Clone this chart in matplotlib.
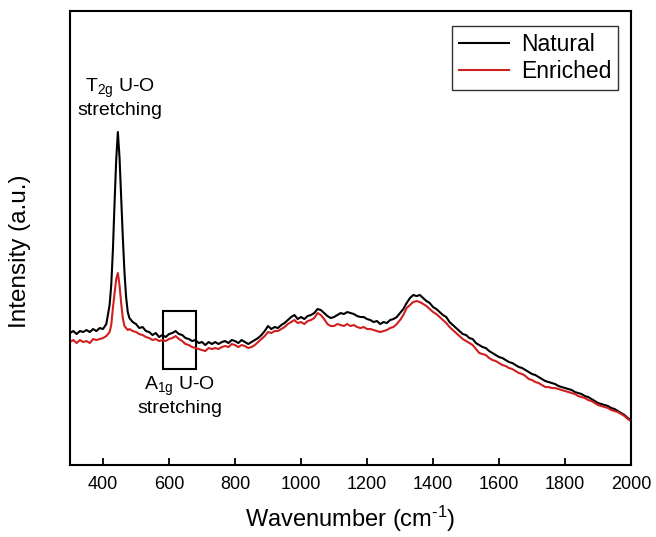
import matplotlib
matplotlib.use("Agg")
import matplotlib.pyplot as plt
from matplotlib.patches import Rectangle

plt.rcParams["font.family"] = ["Liberation Sans", "DejaVu Sans"]
plt.rcParams["mathtext.fontset"] = "custom"
plt.rcParams["mathtext.rm"] = "Liberation Sans"
plt.rcParams["mathtext.it"] = "Liberation Sans"

# Raman shift grid (cm-1): flat start, dense around the T2g peak, then 10 cm-1 steps
wn_low = [300, 310, 320, 330, 340, 350, 360, 370, 380, 390, 400]
wn_peak = [410, 420, 425, 430, 435, 440, 445, 450, 455, 460, 465, 470, 475, 480]
wn_high = list(range(490, 2001, 10))
wavenumber = wn_low + wn_peak + wn_high

# intensities (a.u.)
natural = [
    132, 134, 131, 134, 133, 135, 133, 136, 134, 137, 136,
    141, 160, 180, 215, 262, 305, 333, 308, 268, 228, 193, 168, 153, 147,
    143, 141, 137, 138, 134, 133, 130, 132, 128, 130,
    128, 131, 132, 134, 131, 130, 127, 126, 124, 125,
    122, 123, 120, 123, 121, 123, 121, 123, 124, 122,
    125, 124, 122, 125, 123, 121, 123, 125, 127, 130,
    134, 139, 136, 138, 137, 140, 142, 145, 148, 150,
    146, 148, 146, 149, 150, 152, 156, 155, 152, 149,
    147, 148, 150, 152, 151, 153, 152, 151, 149, 148,
    148, 146, 145, 143, 144, 141, 143, 142, 145, 146,
    148, 152, 156, 162, 167, 170, 169, 170, 167, 164,
    162, 158, 156, 153, 150, 148, 143, 140, 137, 134,
    131, 130, 127, 126, 122, 120, 118, 117, 114, 112,
    110, 108, 107, 105, 103, 102, 100, 98, 97, 95,
    93, 91, 90, 88, 86, 84, 83, 82, 81, 79,
    78, 77, 76, 75, 73, 72, 71, 69, 68, 66,
    64, 62, 61, 60, 59, 57, 56, 54, 52, 50,
    47, 45]

enriched = [
    123, 125, 122, 125, 123, 124, 122, 126, 125, 126, 127,
    129, 133, 140, 157, 172, 186, 192, 180, 162, 147, 139, 137, 135, 136,
    134, 133, 131, 130, 128, 127, 125, 126, 124, 125,
    124, 126, 127, 129, 126, 124, 121, 120, 118, 117,
    116, 115, 114, 117, 116, 117, 116, 118, 119, 118,
    121, 120, 118, 120, 119, 117, 118, 120, 123, 126,
    129, 133, 132, 134, 134, 136, 138, 141, 143, 145,
    142, 143, 141, 144, 145, 147, 152, 150, 146, 141,
    139, 139, 141, 140, 139, 141, 139, 140, 138, 137,
    138, 136, 136, 135, 134, 133, 134, 135, 137, 138,
    141, 145, 150, 157, 160, 163, 164, 163, 161, 159,
    156, 153, 151, 148, 145, 142, 138, 135, 132, 129,
    126, 124, 122, 120, 116, 112, 111, 110, 107, 105,
    104, 102, 100, 99, 97, 96, 94, 92, 91, 89,
    86, 85, 83, 82, 80, 78, 78, 77, 77, 76,
    75, 74, 73, 72, 71, 69, 68, 67, 65, 64,
    62, 60, 59, 58, 57, 55, 54, 53, 51, 49,
    46, 44]

x_ticks = [400, 600, 800, 1000, 1200, 1400, 1600, 1800, 2000]

fig = plt.figure(figsize=(6.56, 5.37), dpi=100)
ax = fig.add_axes([0.1067, 0.134, 0.8553, 0.8455])

ax.plot(wavenumber, natural, color="black", linewidth=1.5, label="Natural")
ax.plot(wavenumber, enriched, color="#d01f1f", linewidth=1.5, label="Enriched")

# box around the A1g region
ax.add_patch(Rectangle((582, 96), 100, 58, fill=False, edgecolor="black", linewidth=1.5))

ax.text(452, 367, "T$_{2g}$ U-O\nstretching", ha="center", va="center",
        fontsize=14, linespacing=1.1)
ax.text(633, 69, "A$_{1g}$ U-O\nstretching", ha="center", va="center",
        fontsize=14, linespacing=1.1)

ax.set_xlim(300, 2000)
ax.set_ylim(0, 454)
ax.set_xticks(x_ticks)
ax.set_yticks([])
ax.tick_params(axis="x", direction="in", length=5, width=1.3, labelsize=13, pad=8)
for sp in ax.spines.values():
    sp.set_linewidth(1.5)

ax.set_xlabel("Wavenumber (cm$^{\\text{-1}}$)", fontsize=17, labelpad=8)
ax.set_ylabel("Intensity (a.u.)", fontsize=17.5)
ax.yaxis.set_label_coords(-0.07, 0.47)

leg = ax.legend(loc="upper right", fontsize=16.5, frameon=True, fancybox=False,
                handlelength=2.2, borderpad=0.3, labelspacing=0.2,
                handletextpad=0.5, borderaxespad=0,
                bbox_to_anchor=(0.977, 0.967))
leg.get_frame().set_edgecolor("black")
leg.get_frame().set_linewidth(1.0)

fig.savefig("out.png", dpi=100, facecolor="white")
